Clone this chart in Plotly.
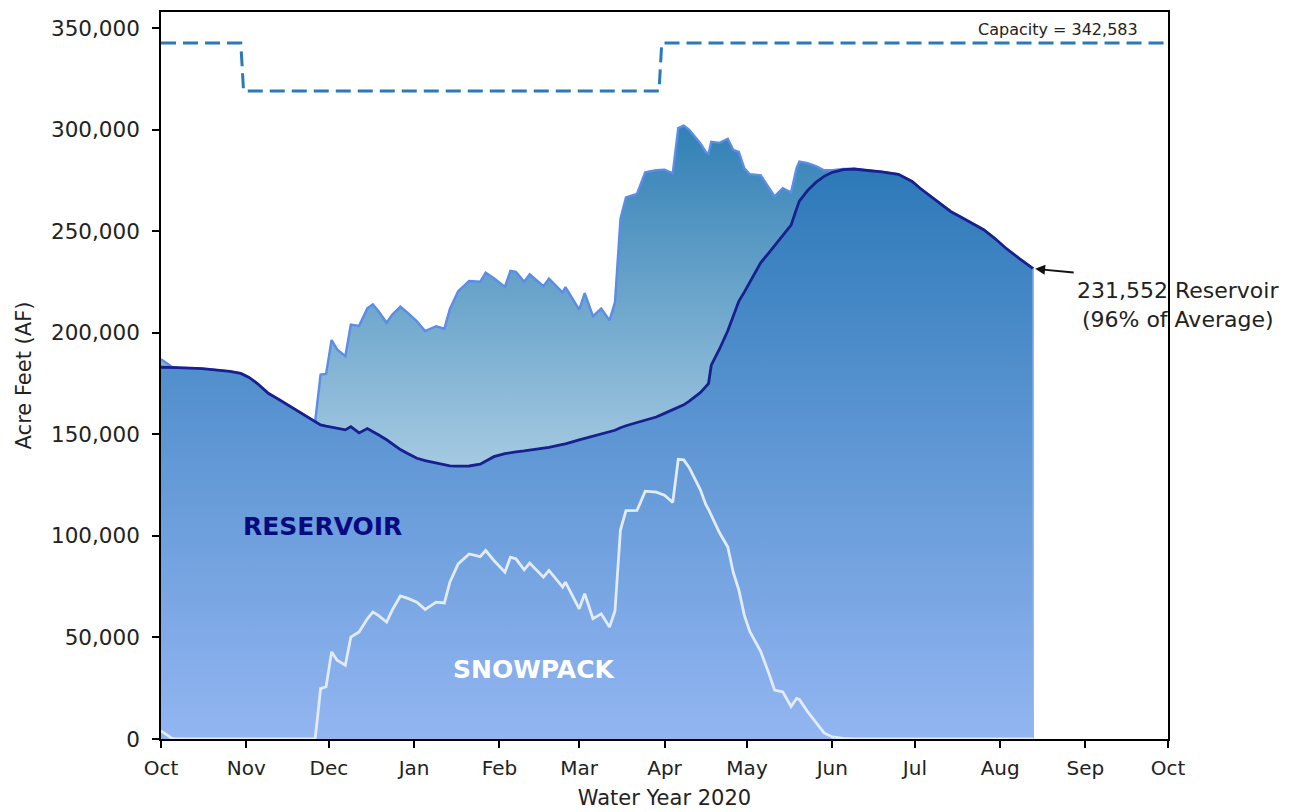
import plotly.graph_objects as go
import pandas as pd

# ---------------- data ----------------
water_year_start = pd.Timestamp("2019-10-01")
water_year_end = pd.Timestamp("2020-10-01")

# day offsets from Oct 1, 2019
day_offsets = [0, 2, 4, 6, 15, 25, 29, 32, 35, 39, 43, 48, 52, 56, 57, 58, 60, 62, 64, 67,
               69, 72, 75, 77, 79, 82, 84, 87, 90, 93, 96, 100, 103, 105, 108, 112, 116, 118,
               121, 125, 127, 129, 132, 134, 139, 141, 146, 147, 152, 154, 157, 160, 163, 165,
               167, 169, 173, 176, 180, 183, 186, 188, 190, 192, 196, 198, 199, 200, 203, 206,
               208, 210, 212, 214, 218, 221, 223, 226, 229, 231, 232, 235, 238, 241, 244, 248,
               252, 256, 262, 268, 273, 276, 280, 284, 287, 292, 296, 299, 303, 307, 312, 317]

# reservoir storage, thousand acre-feet
reservoir_kaf = [183.0, 183.0, 182.9, 182.8, 182.3, 181.0, 180.0, 178.0, 175.0, 170.2, 167.0,
                 162.8, 159.5, 156.0, 155.2, 154.6, 154.0, 153.5, 153.0, 152.2, 153.8, 150.7,
                 152.8, 151.5, 149.8, 147.3, 145.5, 142.5, 140.3, 138.2, 137.0, 135.8, 135.0,
                 134.5, 134.3, 134.4, 135.3, 136.8, 139.0, 140.5, 141.0, 141.3, 141.8, 142.2,
                 143.2, 143.6, 145.0, 145.3, 147.3, 148.0, 149.0, 150.3, 151.0, 152.0, 153.2,
                 154.2, 155.8, 157.0, 158.5, 160.3, 162.0, 163.0, 164.5, 166.3, 170.5, 173.5,
                 175.0, 184.0, 192.0, 201.0, 208.0, 215.5, 220.0, 225.0, 234.5, 239.5, 243.0,
                 248.0, 253.0, 261.0, 264.8, 270.0, 274.0, 277.0, 279.0, 280.3, 280.6, 280.0,
                 279.2, 278.0, 274.5, 271.0, 267.0, 263.0, 259.7, 256.0, 253.0, 250.7, 246.5,
                 241.7, 236.5, 231.552]

# snowpack water content, thousand acre-feet
snowpack_kaf = [4.0, 2.0, 0.3, 0.0, 0.0, 0.0, 0.0, 0.0, 0.0, 0.0, 0.0, 0.0, 0.0, 0.0, 12.0,
                24.8, 25.7, 42.9, 38.8, 36.3, 50.2, 52.7, 59.2, 62.5, 60.9, 57.6, 63.3, 70.4,
                69.1, 67.4, 63.8, 67.4, 67.0, 77.2, 86.2, 91.1, 89.8, 92.8, 87.9, 82.1, 89.5,
                88.7, 83.3, 86.6, 79.7, 83.0, 74.8, 77.2, 64.1, 71.5, 59.2, 61.6, 55.1, 63.0,
                103.0, 112.4, 112.5, 122.0, 121.5, 120.0, 116.5, 137.7, 137.4, 133.6, 122.8,
                115.5, 113.0, 110.0, 101.5, 94.5, 82.0, 73.5, 61.0, 53.0, 43.0, 32.0, 24.1,
                23.2, 16.0, 20.0, 19.5, 13.5, 8.0, 3.0, 1.0, 0.3, 0.0, 0.0, 0.0, 0.0, 0.0, 0.0,
                0.0, 0.0, 0.0, 0.0, 0.0, 0.0, 0.0, 0.0, 0.0, 0.0]

capacity_dates = ["2019-10-01", "2019-10-30", "2019-10-31", "2020-03-30", "2020-03-31", "2020-10-01"]
capacity_values = [342583, 342583, 319000, 319000, 342583, 342583]
capacity_label = "Capacity = 342,583"

last_storage_label = "231,552 Reservoir<br>(96% of Average)"

y_ticks = [0, 50000, 100000, 150000, 200000, 250000, 300000, 350000]

# ---------------- derived ----------------
dates = [water_year_start + pd.Timedelta(days=d) for d in day_offsets]
reservoir = [v * 1000 for v in reservoir_kaf]
snowpack = [v * 1000 for v in snowpack_kaf]
total = [r + s for r, s in zip(reservoir, snowpack)]

FONT = "DejaVu Sans"
TXT = "#222222"

fig = go.Figure()

# reservoir + snowpack (upper band)
fig.add_trace(go.Scatter(
    x=dates, y=total, mode="lines", fill="tozeroy",
    line=dict(color="#5b8ce6", width=2.4),
    fillgradient=dict(type="vertical", colorscale=[[0, "#a6cae2"], [1, "#3180b5"]],
                      start=134000, stop=302000),
    hoverinfo="skip", showlegend=False,
))

# reservoir
fig.add_trace(go.Scatter(
    x=dates, y=reservoir, mode="lines", fill="tozeroy",
    line=dict(color="#18208f", width=2.8),
    fillgradient=dict(type="vertical", colorscale=[[0, "#93b6f2"], [1, "#2d79b8"]],
                      start=0, stop=281000),
    hoverinfo="skip", showlegend=False,
))

# light edge closing the filled area at the last observation
fig.add_trace(go.Scatter(
    x=[dates[-1], dates[-1]], y=[0, reservoir[-1]], mode="lines",
    line=dict(color="#8fb3f0", width=1.5),
    hoverinfo="skip", showlegend=False,
))

# snowpack line
fig.add_trace(go.Scatter(
    x=dates, y=snowpack, mode="lines",
    line=dict(color="#e2ebf7", width=2.8),
    hoverinfo="skip", showlegend=False,
))

# capacity
fig.add_trace(go.Scatter(
    x=capacity_dates, y=capacity_values, mode="lines",
    line=dict(color="#2a79ba", width=3, dash="15px,7px"),
    hoverinfo="skip", showlegend=False,
))

fig.add_annotation(x=0.972, xref="paper", y=349500, yref="y", text=capacity_label,
                   showarrow=False, xanchor="right", yanchor="middle",
                   font=dict(family=FONT, size=16, color=TXT))

# arrow to the last reservoir value
fig.add_annotation(x=dates[-1], y=reservoir[-1], text=" ",
                   showarrow=True, ax=42, ay=4, axref="pixel", ayref="pixel",
                   arrowhead=2, arrowsize=1.1, arrowwidth=1.8, arrowcolor="#111111",
                   standoff=2, font=dict(size=1))
# its label
fig.add_annotation(x=dates[-1], y=reservoir[-1], text=last_storage_label,
                   showarrow=False, xshift=145, yshift=-36, align="center",
                   font=dict(family=FONT, size=22, color=TXT))

fig.add_annotation(x=water_year_start + pd.Timedelta(days=58.7), y=104600, text="<b>RESERVOIR</b>",
                   showarrow=False, font=dict(family=FONT, size=25, color="#0a0a80"))
fig.add_annotation(x=water_year_start + pd.Timedelta(days=135.4), y=34400, text="<b>SNOWPACK</b>",
                   showarrow=False, font=dict(family=FONT, size=25, color="#ffffff"))

fig.update_layout(
    width=1287, height=804,
    margin=dict(l=153, r=127, t=2, b=73),
    paper_bgcolor="white", plot_bgcolor="white",
    font=dict(family=FONT, color=TXT),
)

fig.update_xaxes(
    range=[water_year_start, water_year_end],
    tickformat="%b", dtick="M1", tick0="2019-10-01",
    ticks="outside", ticklen=7, tickwidth=1.5, tickcolor="black",
    showline=True, linecolor="black", linewidth=1.6, mirror=True,
    showgrid=False, zeroline=False, ticklabelstandoff=3,
    tickfont=dict(family=FONT, size=20, color=TXT),
    title=dict(text="Water Year 2020", font=dict(family=FONT, size=21, color=TXT), standoff=12),
)
fig.update_yaxes(
    range=[0, 357900],
    tickvals=y_ticks, tickformat=",d",
    ticks="outside", ticklen=7, tickwidth=1.5, tickcolor="black",
    showline=True, linecolor="black", linewidth=1.6, mirror=True,
    showgrid=False, zeroline=False, ticklabelstandoff=8,
    tickfont=dict(family=FONT, size=21.5, color=TXT),
    title=dict(text="Acre Feet (AF)", font=dict(family=FONT, size=21, color=TXT), standoff=14),
)

fig.write_html("out.html")
